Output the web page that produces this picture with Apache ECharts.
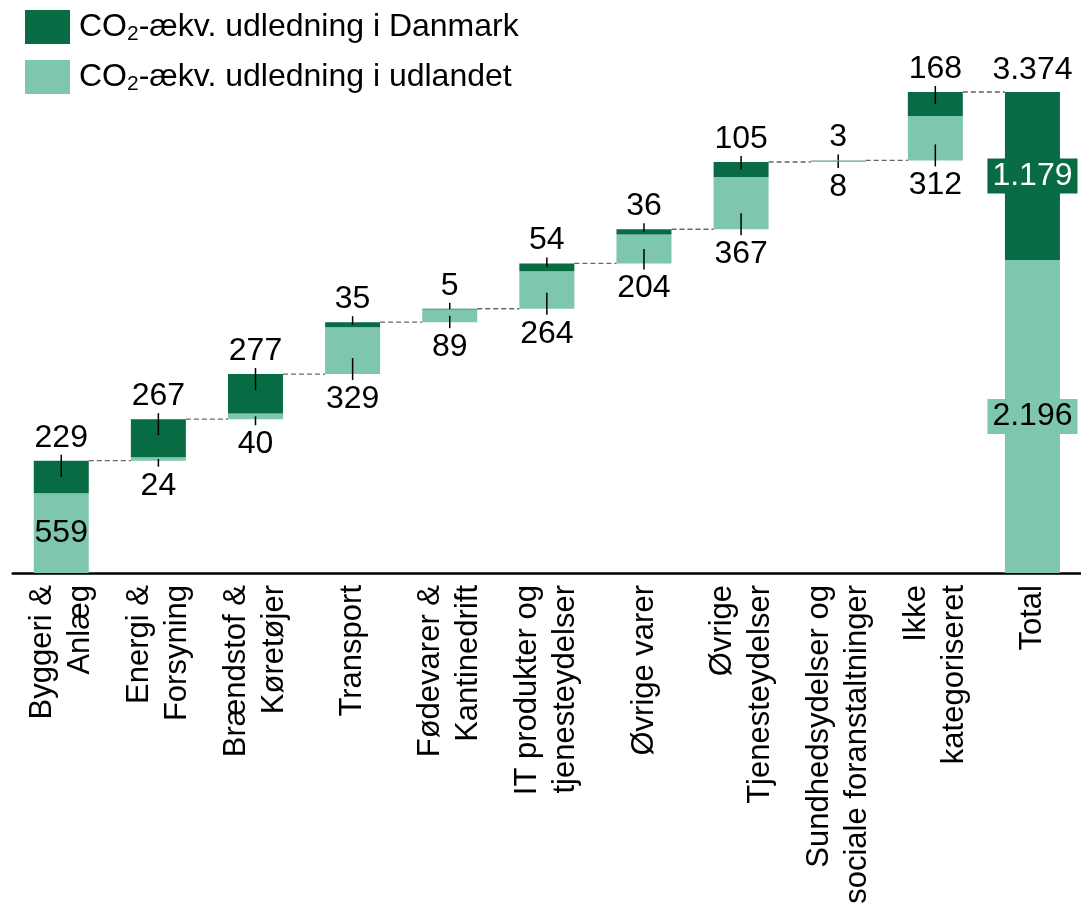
<!DOCTYPE html>
<html>
<head>
<meta charset="utf-8">
<script src="https://cdn.jsdelivr.net/npm/echarts@6/dist/echarts.min.js"></script>
<style>
  html, body { margin: 0; padding: 0; background: #fff; }
  #chart { width: 1081px; height: 911px; }
</style>
</head>
<body>
<div id="chart"></div>
<script>
// ---- data ----
const categories = [
  'Byggeri &\nAnlæg',
  'Energi &\nForsyning',
  'Brændstof &\nKøretøjer',
  'Transport',
  'Fødevarer &\nKantinedrift',
  'IT produkter og\ntjenesteydelser',
  'Øvrige varer',
  'Øvrige\nTjenesteydelser',
  'Sundhedsydelser og\nsociale foranstaltninger',
  'Ikke\nkategoriseret',
  'Total'
];
const dkValues = [229, 267, 277, 35, 5, 54, 36, 105, 3, 168, 1179];
const udlandValues = [559, 24, 40, 329, 89, 264, 204, 367, 8, 312, 2196];
const totalValue = 3374;
const seriesNames = ['CO₂-ækv. udledning i Danmark', 'CO₂-ækv. udledning i udlandet'];

// ---- derived ----
const N = categories.length;
const totalIdx = N - 1;
const bases = [];
let run = 0;
for (let i = 0; i < N; i++) {
  if (i === totalIdx) { bases.push(0); }
  else { bases.push(run); run += dkValues[i] + udlandValues[i]; }
}
const levels = bases.map((b, i) => b + dkValues[i] + udlandValues[i]);

const DARK = '#076b43';
const LIGHT = '#7ec6ad';
const FONT = '"Liberation Sans", Arial, sans-serif';
const BAR_W = 55;
const VAL_FS = 32;

function fmt(n) { return String(n).replace(/\B(?=(\d{3})+(?!\d))/g, '.'); }

const chart = echarts.init(document.getElementById('chart'), null, { renderer: 'canvas' });

function labelRender(params, api) {
  const i = api.value(0);
  const base = bases[i], u = udlandValues[i], d = dkValues[i];
  const x = api.coord([i, 0])[0];
  const yBase = api.coord([i, base])[1];
  const yMid = api.coord([i, base + u])[1];
  const yTop = api.coord([i, base + u + d])[1];
  const ch = [];
  const txt = (t, y, fill, bg) => ({
    type: 'text', x: x, y: y, z2: 20,
    style: {
      text: t, fontSize: VAL_FS, fontFamily: FONT, fill: fill || '#000',
      align: 'center', verticalAlign: 'middle',
      backgroundColor: bg || null, padding: bg ? [2, 5, 1, 5] : 0
    }
  });
  const tick = (y1, y2) => ({
    type: 'line', z2: 15,
    shape: { x1: x, y1: y1, x2: x, y2: y2 },
    style: { stroke: '#000', lineWidth: 1.5 }
  });
  if (i === totalIdx) {
    ch.push(txt(fmt(totalValue), yTop - 22));
    ch.push(txt(fmt(d), (yTop + yMid) / 2, '#fff', DARK));
    ch.push(txt(fmt(u), (yMid + yBase) / 2, '#000', LIGHT));
  } else {
    ch.push(tick(yTop - 6, yTop + Math.min(16, (yMid - yTop) / 2)));
    ch.push(txt(fmt(d), yTop - 23));
    if (base === 0) {
      ch.push(txt(fmt(u), (yMid + yBase) / 2, '#000'));
    } else {
      ch.push(tick(yBase + 6, yBase - Math.min(16, (yBase - yMid) / 2)));
      ch.push(txt(fmt(u), yBase + 25));
    }
  }
  return { type: 'group', children: ch };
}

function connectorRender(params, api) {
  const i = api.value(0);
  if (i >= N - 1) return null;
  const p1 = api.coord([i, levels[i]]);
  const p2 = api.coord([i + 1, levels[i]]);
  return {
    type: 'line',
    shape: { x1: p1[0] + BAR_W / 2, y1: p1[1], x2: p2[0] - BAR_W / 2, y2: p1[1] },
    style: { stroke: '#666', lineWidth: 1.3, lineDash: [5, 3] }
  };
}

const idxData = categories.map((c, i) => [i, levels[i]]);

const option = {
  animation: false,
  backgroundColor: '#fff',
  legend: {
    orient: 'vertical', left: 25, top: 10, padding: 0,
    itemWidth: 45, itemHeight: 34, itemGap: 15,
    icon: 'rect', selectedMode: false,
    data: [seriesNames[0], seriesNames[1]],
    formatter: function (name) {
      const p = name.split('₂');
      return '{b|' + p[0] + '}{s|2}{a|' + p[1] + '}';
    },
    textStyle: {
      fontSize: 32, fontFamily: FONT, color: '#000',
      rich: {
        b: { fontSize: 32, fontFamily: FONT, color: '#000', padding: [0, 0, 0, 4] },
        a: { fontSize: 32, fontFamily: FONT, color: '#000' },
        s: { fontSize: 21, fontFamily: FONT, color: '#000', padding: [15, 0, 0, 0] }
      }
    }
  },
  grid: { left: 12.7, width: 1073.6, top: 92, bottom: 338, containLabel: false },
  xAxis: {
    type: 'category', data: categories,
    axisLine: { show: true, lineStyle: { color: '#000', width: 2.5 } },
    axisTick: { show: false },
    axisLabel: {
      interval: 0, rotate: 90, margin: 12, fontSize: 31, lineHeight: 38,
      fontFamily: FONT, color: '#000'
    },
    splitLine: { show: false }
  },
  yAxis: {
    type: 'value', min: 0, max: levels[totalIdx] > totalValue ? levels[totalIdx] : totalValue,
    show: false, splitLine: { show: false }
  },
  series: [
    {
      name: 'base', type: 'bar', stack: 'w', barWidth: BAR_W, silent: true,
      itemStyle: { color: 'transparent' }, data: bases
    },
    {
      name: seriesNames[1], type: 'bar', stack: 'w', barWidth: BAR_W,
      itemStyle: { color: LIGHT }, data: udlandValues
    },
    {
      name: seriesNames[0], type: 'bar', stack: 'w', barWidth: BAR_W,
      itemStyle: { color: DARK }, data: dkValues
    },
    {
      type: 'custom', name: 'connectors', clip: false, silent: true, z: 3,
      renderItem: connectorRender, data: idxData, encode: { x: 0, y: 1 }
    },
    {
      type: 'custom', name: 'labels', clip: false, silent: true, z: 10,
      renderItem: labelRender, data: idxData, encode: { x: 0, y: 1 }
    }
  ]
};
chart.setOption(option);
</script>
</body>
</html>
